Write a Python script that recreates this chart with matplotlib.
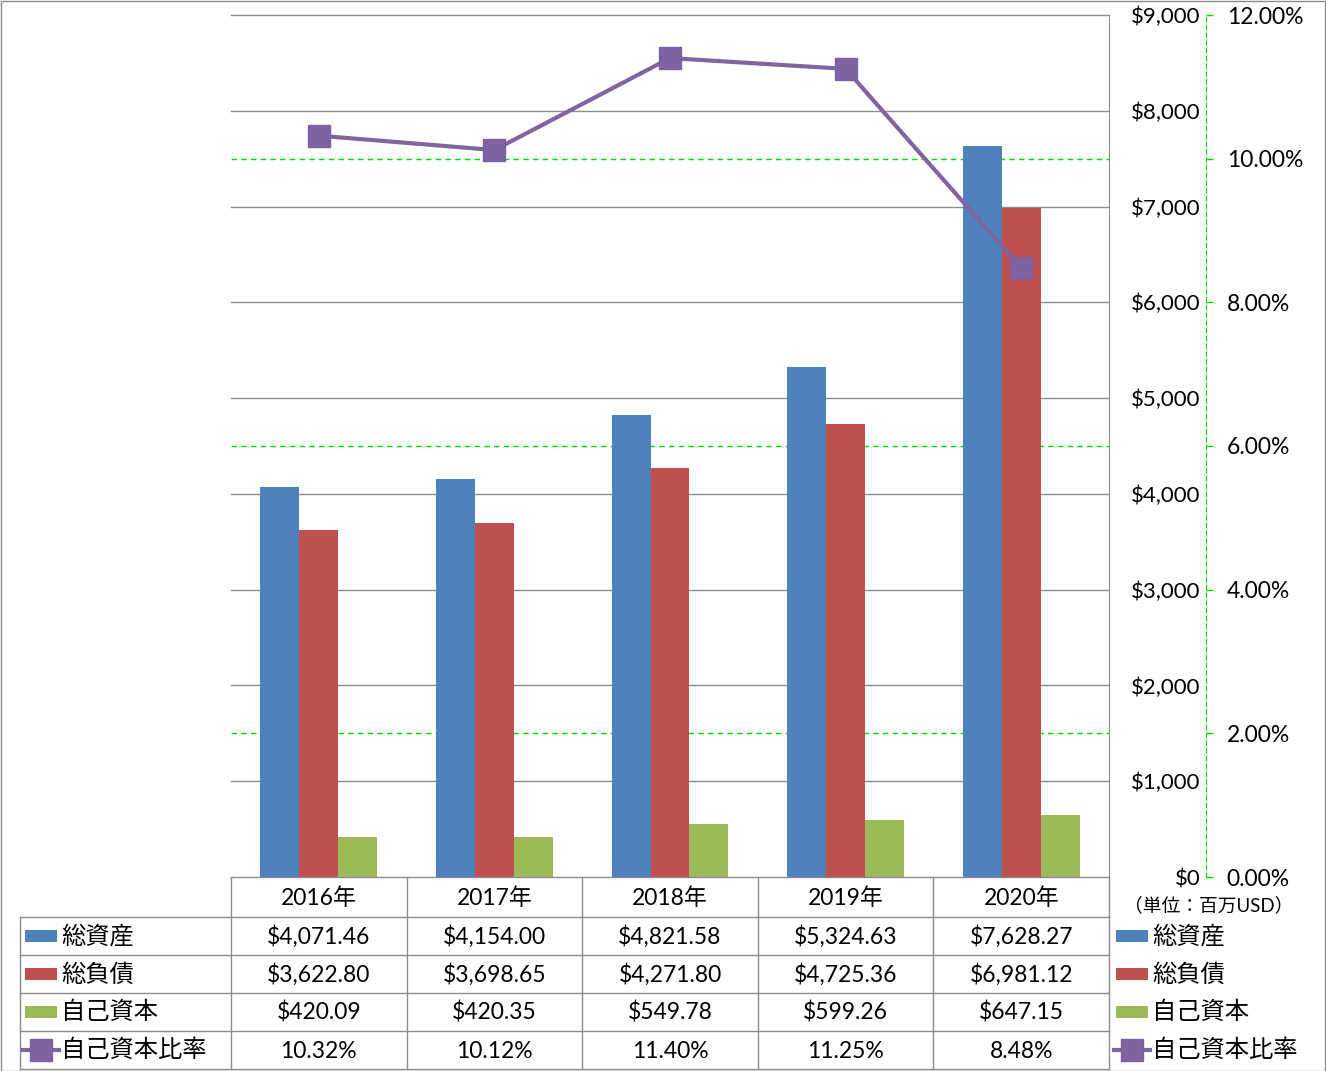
import numpy as np
import matplotlib
matplotlib.use("Agg")
import matplotlib.pyplot as plt
from matplotlib.lines import Line2D
from matplotlib.patches import Rectangle
from matplotlib import transforms

plt.rcParams['font.family'] = ['Lato', 'Noto Sans CJK JP', 'DejaVu Sans']

# data
years = ["2016年", "2017年", "2018年", "2019年", "2020年"]
total_assets = [4071.46, 4154.00, 4821.58, 5324.63, 7628.27]
total_liab = [3622.80, 3698.65, 4271.80, 4725.36, 6981.12]
equity = [420.09, 420.35, 549.78, 599.26, 647.15]
equity_ratio = [10.32, 10.12, 11.40, 11.25, 8.48]
series_names = ["総資産", "総負債", "自己資本", "自己資本比率"]
usd_ticks = [0, 1000, 2000, 3000, 4000, 5000, 6000, 7000, 8000, 9000]
pct_ticks = [0, 2, 4, 6, 8, 10, 12]
unit_note = "（単位：百万USD）"

c_blue, c_red, c_green, c_purple = "#4F81BD", "#C0504D", "#9BBB59", "#8064A2"
grid_gray = "#8C8C8C"
W, H = 1326, 1071


def fx(x):
    return x / W


def fy(y):
    return 1 - y / H


fig = plt.figure(figsize=(W / 100, H / 100), dpi=100)
fig.add_artist(Rectangle((0.5 / W, 0.5 / H), 1 - 1.5 / W, 1 - 1.5 / H, transform=fig.transFigure,
                         fill=False, edgecolor=grid_gray, lw=1))

ax = fig.add_axes([fx(231), fy(877), (1109 - 231) / W, (877 - 15) / H])
ax2 = ax.twinx()

x = np.arange(len(years))
bw = 0.222
ax.bar(x - bw, total_assets, bw, color=c_blue, zorder=3)
ax.bar(x, total_liab, bw, color=c_red, zorder=3)
ax.bar(x + bw, equity, bw, color=c_green, zorder=3)
ax.set_xlim(-0.5, len(years) - 0.5)
ax.set_ylim(0, 9000)
ax.set_yticks(usd_ticks)
ax.set_yticklabels([f"${v:,.0f}" for v in usd_ticks])
ax.yaxis.tick_right()
ax.tick_params(axis='y', length=0, pad=66, labelsize=16)
for lab in ax.get_yticklabels():
    lab.set_horizontalalignment('right')
ax.set_xticks([])
for v in usd_ticks[1:]:
    ax.axhline(v, color=grid_gray, lw=1, zorder=1, clip_on=False)
for s in ['left', 'top', 'bottom']:
    ax.spines[s].set_visible(False)
ax.spines['right'].set_color(grid_gray)

# percent axis
ax2.set_ylim(0, 12)
ax2.set_yticks(pct_ticks)
ax2.set_yticklabels([f"{v:.2f}%" for v in pct_ticks])
ax2.spines['right'].set_position(('outward', 97 * 0.72))
ax2.spines['right'].set_color("#00DD00")
ax2.spines['right'].set_linestyle((0, (4, 3)))
for s in ['left', 'top', 'bottom']:
    ax2.spines[s].set_visible(False)
ax2.tick_params(axis='y', length=5, width=1, color="#00DD00", pad=10, labelsize=16.5)
trans = transforms.blended_transform_factory(ax.transAxes, ax2.transData)
for p in pct_ticks[1:]:
    if p % 4:
        ax.plot([0, 1], [p, p], transform=trans, color="#00DD00", lw=1, ls=(0, (4, 3)), zorder=0.5)
ax2.plot(x, equity_ratio, color=c_purple, lw=3, marker='s', markersize=16,
         markerfacecolor=c_purple, markeredgecolor="#7A60A0", zorder=5)

# data table
col_x = np.linspace(231, 1109, len(years) + 1)
row_y = [877, 917, 955, 993, 1031, 1069]


def hline(x0, x1, y):
    fig.add_artist(Line2D([fx(x0), fx(x1)], [fy(y), fy(y)], color=grid_gray, lw=1, transform=fig.transFigure))


def vline(xp, y0, y1):
    fig.add_artist(Line2D([fx(xp), fx(xp)], [fy(y0), fy(y1)], color=grid_gray, lw=1, transform=fig.transFigure))


hline(231, 1109, row_y[0])
for y in row_y[1:]:
    hline(20, 1109, y)
for cx in col_x:
    vline(cx, row_y[0], row_y[-1])
vline(20, row_y[1], row_y[-1])

fs = 16.5
for i, yr in enumerate(years):
    xc = (col_x[i] + col_x[i + 1]) / 2
    fig.text(fx(xc), fy((row_y[0] + row_y[1]) / 2 + 1), yr, ha='center', va='center', fontsize=fs)
    vals = [f"${total_assets[i]:,.2f}", f"${total_liab[i]:,.2f}", f"${equity[i]:,.2f}", f"{equity_ratio[i]:.2f}%"]
    for r, v in enumerate(vals):
        yc = (row_y[r + 1] + row_y[r + 2]) / 2 + 1
        fig.text(fx(xc), fy(yc), v, ha='center', va='center', fontsize=fs)


def legend_key(x0, yc, r):
    if r < 3:
        col = [c_blue, c_red, c_green][r]
        fig.add_artist(Rectangle((fx(x0), fy(yc + 6)), 32 / W, 12 / H, transform=fig.transFigure,
                                 color=col, lw=0))
    else:
        fig.add_artist(Line2D([fx(x0 - 2), fx(x0 + 34)], [fy(yc), fy(yc)], color=c_purple, lw=3,
                              transform=fig.transFigure))
        fig.add_artist(Line2D([fx(x0 + 16)], [fy(yc)], color=c_purple, marker='s', markersize=16,
                              markeredgecolor="#7A60A0", transform=fig.transFigure))


for r, name in enumerate(series_names):
    yc = (row_y[r + 1] + row_y[r + 2]) / 2
    legend_key(25, yc, r)
    fig.text(fx(61), fy(yc), name, ha='left', va='center', fontsize=17.5)
    legend_key(1116, yc, r)
    fig.text(fx(1152), fy(yc), name, ha='left', va='center', fontsize=17.5)

fig.text(fx(1124), fy(905), unit_note, ha='left', va='center', fontsize=13.5)

fig.savefig("out.png", dpi=100)
